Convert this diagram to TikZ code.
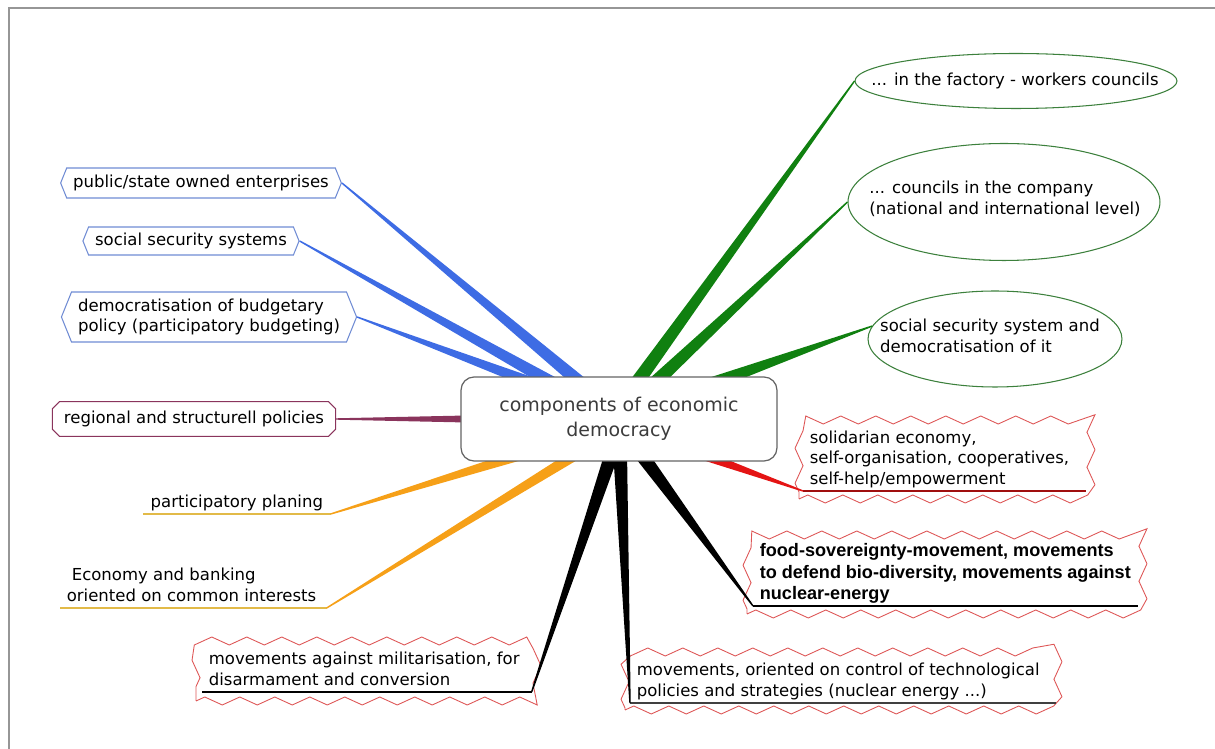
\documentclass[tikz,border=0pt]{standalone}
\usepackage{fontspec}
\setmainfont{DejaVu Sans}
\newfontfamily\arialfont{Liberation Sans}
\usetikzlibrary{calc, shapes.geometric, shapes.symbols, shapes.misc, decorations.pathmorphing}

\definecolor{brblue}{RGB}{62,108,228}
\definecolor{brgreen}{RGB}{16,128,16}
\definecolor{brpurple}{RGB}{138,52,92}
\definecolor{brorange}{RGB}{246,160,24}
\definecolor{brred}{RGB}{228,20,20}
\definecolor{hexblue}{RGB}{112,140,212}
\definecolor{ellgreen}{RGB}{60,128,60}
\definecolor{zigred}{RGB}{222,86,86}
\definecolor{goldline}{RGB}{226,186,72}
\definecolor{hubgray}{RGB}{100,100,100}
\definecolor{hubtext}{RGB}{60,60,60}
\definecolor{framegray}{RGB}{150,150,150}

\pgfdeclarelayer{front}
\pgfsetlayers{main,front}

% tapered branch: [half width at hub]{colour}{leaf point}{hub point}
\newcommand{\branch}[4][1.3mm]{%
  \fill[#2] ($(#3)!0.4pt!90:(#4)$) -- ($(#4)!#1!-90:(#3)$) -- ($(#4)!#1!90:(#3)$) -- ($(#3)!0.4pt!-90:(#4)$) -- cycle;}

\begin{document}
\begin{tikzpicture}[x=0.02cm, y=-0.02cm,
    leaf/.style={font=\fontsize{9.4}{11.8}\selectfont, text=black},
    hexbox/.style={leaf, align=left, signal, signal to=east and west, signal pointer angle=136, draw=hexblue, fill=white, line width=0.6pt, inner xsep=1.3mm, inner ysep=0pt},
    chambox/.style={leaf, chamfered rectangle, chamfered rectangle xsep=0.7mm, chamfered rectangle ysep=0.7mm, draw=brpurple, fill=white, line width=0.6pt, inner xsep=1.6mm, minimum height=5.6mm},
    ellbox/.style={ellipse, draw=ellgreen, fill=white, line width=0.6pt, inner sep=0pt},
    zigbox/.style={draw=zigred, fill=white, line width=0.5pt, inner sep=0pt, decorate, decoration={zigzag, segment length=7mm, amplitude=0.8mm}},
    lined/.style={leaf, anchor=south west, inner xsep=1.3mm, inner ysep=0.6mm, text depth=0.6mm},
    hub/.style={rectangle, rounded corners=2.6mm, draw=hubgray, fill=white, line width=0.7pt, minimum width=63.2mm, minimum height=16.8mm, align=center, text=hubtext, font=\fontsize{10.8}{14}\selectfont}]

    \useasboundingbox (0,0) rectangle (1215,749);
    \draw[framegray, line width=0.8pt] (9,749) -- (9,8) -- (1215,8);

    % Centre
    \begin{pgfonlayer}{front}
        \node[hub] (hub) at (619,419) {components of economic\\democracy};
    \end{pgfonlayer}

    % Left side
    \node[hexbox, minimum height=6mm] (pub) at (201,183) {public/state owned enterprises};
    \node[hexbox, minimum height=5.6mm] (soc) at (191,241) {social security systems};
    \node[hexbox, minimum height=10mm] (bud) at (209,317) {democratisation of budgetary\\policy (participatory budgeting)};
    \node[chambox] (reg) at (194,419) {regional and structurell policies};
    \node[lined] (plan) at (143,514) {\parbox[b]{34.8mm}{\centering participatory planing}};
    \node[lined] (econ) at (60,608) {\parbox[b]{50.6mm}{\hspace*{1mm}Economy and banking\\oriented on common interests}};
    \node[zigbox, minimum width=68.2mm, minimum height=12mm] (mil) at (366.5,671) {};
    \node[lined] (milt) at (202,692) {\parbox[b]{63.2mm}{movements against militarisation, for\\disarmament and conversion}};

    % Right side
    \node[ellbox, minimum width=64.4mm, minimum height=11mm] (fac) at (1016,81) {};
    \node[leaf] (fact) at (1015,81) {... in the factory - workers councils};
    \node[ellbox, minimum width=62.4mm, minimum height=23.4mm] (com) at (1004,202) {};
    \node[leaf, align=left] (comt) at (1005,199) {... councils in the company\\(national and international level)};
    \node[ellbox, minimum width=50.8mm, minimum height=19.2mm] (sss) at (995,339) {};
    \node[leaf, align=left] (ssst) at (990,336) {social security system and\\democratisation of it};
    \node[zigbox, minimum width=58.4mm, minimum height=15.8mm] (sol) at (945,459.5) {};
    \node[lined] (solt) at (803,491) {\parbox[b]{53.8mm}{solidarian economy,\\self-organisation, cooperatives,\\self-help/empowerment}};
    \node[zigbox, minimum width=79.2mm, minimum height=15.8mm] (food) at (945,574.5) {};
    \node[lined, font=\arialfont\bfseries\fontsize{10.3}{12.2}\selectfont] (foodt) at (753,606) {\parbox[b]{74.2mm}{food-sovereignty-movement, movements\\to defend bio-diversity, movements against\\nuclear-energy}};
    \node[zigbox, minimum width=86.6mm, minimum height=11.6mm] (tech) at (841.5,681) {};
    \node[lined] (techt) at (630,703) {\parbox[b]{82.4mm}{movements, oriented on control of technological\\policies and strategies (nuclear energy ...)}};

    % Underlines
    \draw[goldline, line width=0.7pt] (plan.south west) -- (plan.south east);
    \draw[goldline, line width=0.7pt] (econ.south west) -- (econ.south east);
    \draw[line width=0.7pt] (milt.south west) -- (milt.south east);
    \draw[brred!70!black, line width=0.7pt] (solt.south west) -- (solt.south east);
    \draw[line width=0.7pt] (foodt.south west) -- (foodt.south east);
    \draw[black!75, line width=0.7pt] (techt.south west) -- (techt.south east);

    % Hub ends
    \coordinate (hpub) at ($(hub)+(-18,-19)$);
    \coordinate (hsoc) at ($(hub)+(-36,-19)$);
    \coordinate (hbud) at ($(hub)+(-55,-24)$);
    \coordinate (hreg) at ($(hub)+(-129,0)$);
    \coordinate (hplan) at ($(hub)+(-89,33)$);
    \coordinate (hecon) at ($(hub)+(-39,33)$);
    \coordinate (hmil) at ($(hub)+(-6,31)$);
    \coordinate (htech) at ($(hub)+(1,31)$);
    \coordinate (hfood) at ($(hub)+(19,31)$);
    \coordinate (hsol) at ($(hub)+(81,35)$);
    \coordinate (hsss) at ($(hub)+(81,-31)$);
    \coordinate (hcom) at ($(hub)+(26,-27)$);
    \coordinate (hfac) at ($(hub)+(11,-27)$);

    % Branches
    \branch[1.4mm]{brblue}{pub.east}{hpub}
    \branch[1.4mm]{brblue}{soc.east}{hsoc}
    \branch[1.3mm]{brblue}{bud.east}{hbud}
    \branch[0.8mm]{brpurple}{reg.east}{hreg}
    \branch[1.1mm]{brorange}{plan.south east}{hplan}
    \branch[1.1mm]{brorange}{econ.south east}{hecon}
    \branch[1.4mm]{black}{milt.south east}{hmil}
    \branch[1.4mm]{black}{techt.south west}{htech}
    \branch[1.4mm]{black}{foodt.south west}{hfood}
    \branch[1.0mm]{brred}{solt.south west}{hsol}
    \branch[1.4mm]{brgreen}{sss.174}{hsss}
    \branch[1.4mm]{brgreen}{com.west}{hcom}
    \branch[1.4mm]{brgreen}{fac.west}{hfac}
\end{tikzpicture}
\end{document}
